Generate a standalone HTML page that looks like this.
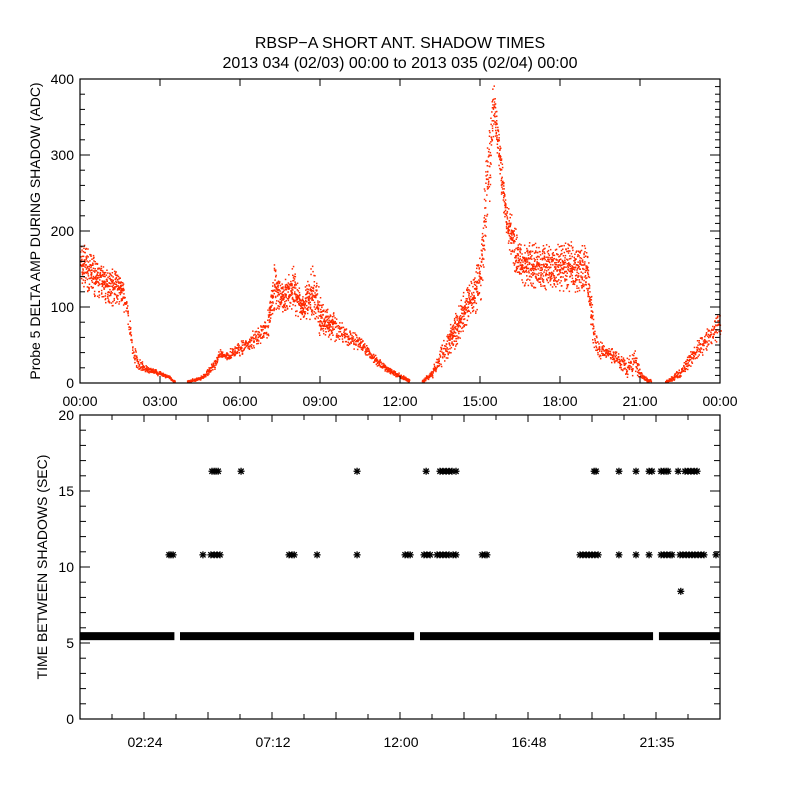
<!DOCTYPE html>
<html><head><meta charset="utf-8"><style>
html,body{margin:0;padding:0;background:#fff;}
svg{display:block;font-family:"Liberation Sans",sans-serif;}
</style></head><body>
<svg id="c" width="800" height="800" viewBox="0 0 800 800">
<rect width="800" height="800" fill="#fff"/>
<text x="400" y="48" font-size="16" text-anchor="middle">RBSP−A SHORT ANT. SHADOW TIMES</text>
<text x="400" y="68" font-size="16" text-anchor="middle">2013 034 (02/03) 00:00 to 2013 035 (02/04) 00:00</text>
<text transform="translate(40,231) rotate(-90)" font-size="14" text-anchor="middle">Probe 5 DELTA AMP DURING SHADOW (ADC)</text>
<text transform="translate(47,567) rotate(-90)" font-size="14" text-anchor="middle">TIME BETWEEN SHADOWS (SEC)</text>
<g id="topPanel"></g>
<g id="botPanel"></g>
</svg>
<script>
// ---- top panel data (hours, lower/upper envelope of scattered amplitude) ----
const ampHours = [0,0.5,1,1.5,1.75,2,2.25,2.5,3,3.3,3.5,4,4.5,4.8,5,5.25,5.5,6,6.5,7,7.25,7.5,8,8.25,8.75,9,9.5,10,10.5,11,11.5,12,12.3,12.8,13.2,13.5,14,14.5,15,15.3,15.5,15.7,16,16.5,17,18,19,19.25,19.5,20,20.5,20.8,21,21.3,22,22.5,23,23.5,24];
const ampLow  = [120,110,100,100,80,20,15,12,8,5,0,0,3,10,15,30,28,35,45,55,90,90,90,80,75,60,55,45,40,25,12,5,0,0,5,20,40,70,100,200,340,270,180,120,120,120,110,40,30,25,5,10,5,0,0,5,25,40,60];
const ampHigh = [195,170,155,150,110,50,30,22,15,10,3,3,8,20,30,45,42,55,70,90,165,130,160,120,160,110,95,75,60,40,22,12,5,3,20,50,90,130,180,350,400,330,240,190,185,185,190,80,55,45,35,50,15,5,4,20,50,75,100];
const ampGaps = [[3.55,4.0],[12.35,12.8],[21.4,21.95]];
const topYTicks = [0,100,200,300,400];
const topXLabels = ["00:00","03:00","06:00","09:00","12:00","15:00","18:00","21:00","00:00"];
// ---- bottom panel data ----
const bandSegments = [[0,3.54],[3.75,12.53],[12.75,21.49],[21.71,24]];
const bandValue = 5.45;
const row16Hours = [4.95,5.03,5.1,5.18,6.04,10.39,12.98,13.5,13.61,13.73,13.84,13.95,14.1,19.28,19.35,20.21,20.85,21.34,21.45,21.79,21.9,21.98,22.05,22.43,22.69,22.8,22.91,23.03,23.14];
const row16Value = 16.3;
const row11Hours = [3.34,3.41,3.49,4.61,4.91,5.03,5.14,5.25,7.84,7.95,8.03,8.89,10.39,12.19,12.3,12.38,12.9,13.01,13.13,13.39,13.5,13.61,13.73,13.84,13.99,14.1,15.08,15.19,15.26,18.75,18.86,18.98,19.09,19.2,19.31,19.43,20.21,20.85,21.34,21.79,21.9,22.01,22.13,22.2,22.5,22.61,22.73,22.84,22.95,23.06,23.18,23.29,23.4,23.85];
const row11Value = 10.8;
const extraHours = [22.53];
const extraValues = [8.4];
const botYTicks = [0,5,10,15,20];
const botXLabels = ["02:24","07:12","12:00","16:48","21:35"];

const NS="http://www.w3.org/2000/svg";
function mk(p,t,a){const e=document.createElementNS(NS,t);for(const k in a)e.setAttribute(k,a[k]);p.appendChild(e);return e;}
const X0=80,X1=720;
const xs=h=>X0+h/24*(X1-X0);
const T0=383,T1=79, yT=v=>T0-(v/400)*(T0-T1);
const B0=719,B1=415, yB=v=>B0-(v/20)*(B0-B1);

const topG=document.getElementById('topPanel'), botG=document.getElementById('botPanel');
let seed=7;function rnd(){seed=(seed*16807)%2147483647;return seed/2147483647;}
function interp(arr,h){for(let i=0;i<ampHours.length-1;i++){if(h>=ampHours[i]&&h<=ampHours[i+1]){const t=(h-ampHours[i])/(ampHours[i+1]-ampHours[i]);return arr[i]+t*(arr[i+1]-arr[i]);}}return arr[arr.length-1];}
const dots=mk(topG,'g',{fill:'#ff2a00'});


for(let h=0;h<=24;h+=0.008){
  if(ampGaps.some(g=>h>g[0]&&h<g[1]))continue;
  const lo=interp(ampLow,h),hi=interp(ampHigh,h);
  const n=hi-lo>40?2:1;
  for(let k=0;k<n;k++){
    const r=(rnd()+rnd())/2;
    const v=lo+(hi-lo)*r;
    mk(dots,'rect',{x:(xs(h)+rnd()-0.5).toFixed(1),y:(yT(v)-1).toFixed(1),width:1.5,height:1.5});
  }
}
const tb=mk(topG,'rect',{x:X0,y:T1,width:X1-X0,height:T0-T1,fill:'none',stroke:'#000','stroke-width':1.2});


for(let v=0;v<=400;v+=10){
  const y=yT(v), maj=v%100===0;
  if(v%20===0)mk(topG,'line',{x1:X0,x2:X0+(maj?10:5),y1:y,y2:y,stroke:'#000'});
  mk(topG,'line',{x1:X1,x2:X1-(maj?10:5),y1:y,y2:y,stroke:'#000'});
}
topYTicks.forEach(v=>{const t=mk(topG,'text',{x:74,y:yT(v)+5,'font-size':14,'text-anchor':'end'});t.textContent=v;

});
topXLabels.forEach((s,i)=>{const x=xs(i*3);
  mk(topG,'line',{x1:x,x2:x,y1:T0,y2:T0-7,stroke:'#000'});mk(topG,'line',{x1:x,x2:x,y1:T1,y2:T1+7,stroke:'#000'});
  const t=mk(topG,'text',{x:x,y:406,'font-size':14,'text-anchor':'middle'});t.textContent=s;
  
  });
bandSegments.forEach(s=>{const r=mk(botG,'rect',{x:xs(s[0]),y:yB(bandValue)-4,width:xs(s[1])-xs(s[0]),height:8,fill:'#000'});

});
function star(h,v){const g=mk(botG,'g',{stroke:'#000','stroke-width':1.3});
  
  
  const x=xs(h),y=yB(v),r=3.5;
  mk(g,'line',{x1:x-r,x2:x+r,y1:y,y2:y});mk(g,'line',{x1:x,x2:x,y1:y-r,y2:y+r});
  mk(g,'line',{x1:x-r*0.75,x2:x+r*0.75,y1:y-r*0.75,y2:y+r*0.75});mk(g,'line',{x1:x-r*0.75,x2:x+r*0.75,y1:y+r*0.75,y2:y-r*0.75});}
row16Hours.forEach(h=>star(h,row16Value));
row11Hours.forEach(h=>star(h,row11Value));
extraHours.forEach((h,i)=>star(h,extraValues[i]));
const bb=mk(botG,'rect',{x:X0,y:B1,width:X1-X0,height:B0-B1,fill:'none',stroke:'#000','stroke-width':1.2});


for(let v=0;v<=20;v++){const y=yB(v),maj=v%5===0;
  mk(botG,'line',{x1:X0,x2:X0+(maj?10:6),y1:y,y2:y,stroke:'#000'});mk(botG,'line',{x1:X1,x2:X1-(maj?10:6),y1:y,y2:y,stroke:'#000'});}
botYTicks.forEach(v=>{const t=mk(botG,'text',{x:74,y:yB(v)+5,'font-size':14,'text-anchor':'end'});t.textContent=v;

});
for(let k=1;k<20;k++){const x=xs(k*1.2),len=k%2===0?7:5;
  mk(botG,'line',{x1:x,x2:x,y1:B0,y2:B0-len,stroke:'#000'});mk(botG,'line',{x1:x,x2:x,y1:B1,y2:B1+len,stroke:'#000'});}
botXLabels.forEach((s,i)=>{const t=mk(botG,'text',{x:xs(2.4+i*4.8)+1,y:747,'font-size':14,'text-anchor':'middle'});t.textContent=s;

});
</script>
</body></html>
